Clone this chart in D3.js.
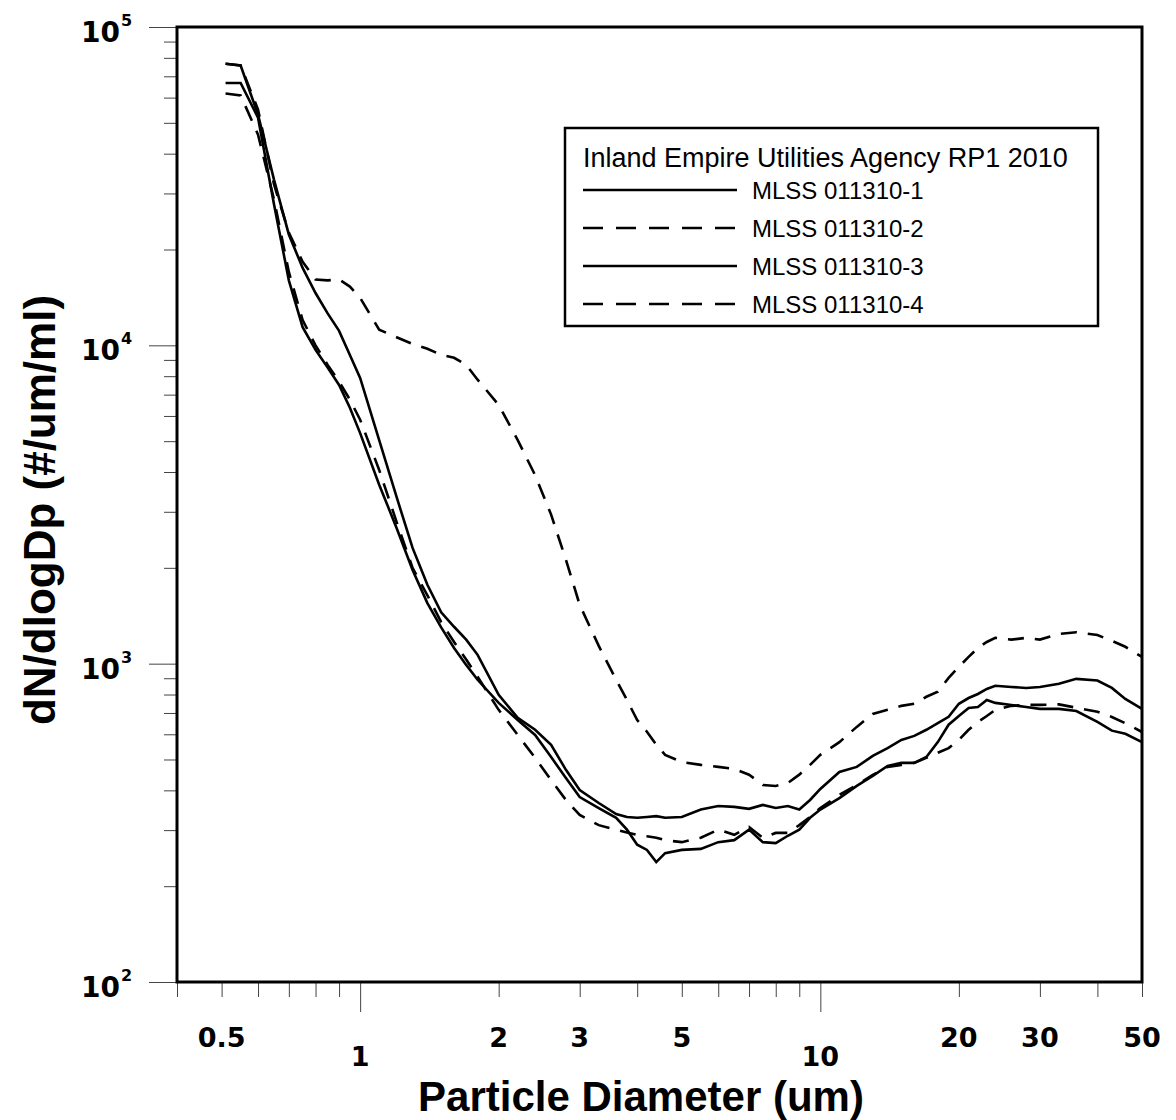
<!DOCTYPE html>
<html lang="en">
<head>
<meta charset="utf-8">
<title>Particle size distribution</title>
<script src="https://d3js.org/d3.v7.min.js"></script>
<style>
  body { margin: 0; background: #fff; }
  svg text { font-family: "Liberation Sans", Arial, sans-serif; fill: #000; }
  svg text.tickLabel { font-family: "DejaVu Sans", sans-serif; font-weight: bold; }
  .tick line { stroke: #444; stroke-width: 1; }
  .domain { display: none; }
</style>
</head>
<body>
<svg id="chart" width="1176" height="1120"></svg>
<script>
// particle diameter (um), shared by all four runs
var diam = [0.51, 0.55, 0.6, 0.65, 0.7, 0.75, 0.8, 0.85, 0.9, 0.95,
            1.0, 1.1, 1.2, 1.3, 1.4, 1.5, 1.6, 1.7, 1.8, 2.0,
            2.2, 2.4, 2.6, 2.8, 3.0, 3.3, 3.6, 3.8, 4.0, 4.2,
            4.4, 4.6, 5.0, 5.5, 6.0, 6.5, 7.0, 7.5, 8.0, 8.5,
            9.0, 9.5, 10, 11, 12, 13, 14, 15, 16, 17,
            18, 19, 20, 21, 22, 23, 24, 26, 28, 30,
            33, 36, 40, 43, 46, 50];

// dN/dlogDp (#/um/ml)
var mlss1 = [76700, 75700, 53100, 33100, 22300, 17500, 14600, 12600, 11100, 9330,
             7900, 5040, 3340, 2310, 1770, 1450, 1306, 1190, 1066, 798,
             676, 620, 556, 464, 401, 365, 337, 330, 328, 330,
             332, 328, 330, 348, 357, 355, 350, 360, 352, 357,
             348, 373, 404, 457, 474, 513, 543, 576, 593, 620,
             651, 681, 748, 780, 803, 833, 852, 845, 839, 845,
             865, 896, 885, 839, 775, 721];

var mlss2 = [76700, 75700, 55000, 32000, 22600, 18300, 16100, 16000, 16100, 15300,
             14100, 11200, 10600, 10100, 9750, 9330, 9140, 8680, 7800, 6500,
             5040, 3910, 2940, 2120, 1530, 1137, 890, 769, 665, 611,
             556, 517, 491, 481, 474, 467, 448, 416, 413, 422,
             448, 481, 517, 567, 633, 695, 716, 737, 748, 787,
             816, 902, 977, 1050, 1120, 1170, 1205, 1190, 1205, 1190,
             1240, 1255, 1230, 1180, 1130, 1050];

var mlss3 = [66700, 66700, 51900, 27700, 16000, 11400, 9680, 8510, 7510, 6370,
             5300, 3650, 2670, 1970, 1550, 1300, 1120, 991, 890, 753,
             665, 597, 509, 437, 381, 352, 328, 301, 270, 260,
             238, 254, 260, 262, 275, 279, 301, 275, 273, 288,
             301, 328, 348, 378, 413, 444, 477, 488, 488, 509,
             567, 643, 685, 726, 731, 769, 753, 742, 731, 721,
             721, 710, 656, 616, 602, 567];

var mlss4 = [61800, 61000, 45900, 28700, 17000, 12000, 10000, 8680, 7690, 6750,
             5840, 4060, 2790, 2000, 1640, 1350, 1170, 1030, 910, 716,
             597, 506, 431, 373, 335, 311, 301, 295, 290, 287,
             284, 279, 275, 284, 301, 290, 307, 284, 294, 294,
             311, 330, 352, 387, 416, 447, 474, 481, 488, 506,
             525, 543, 576, 620, 656, 685, 716, 737, 742, 742,
             745, 727, 706, 680, 650, 610];

var seriesNames = ["MLSS 011310-1", "MLSS 011310-2", "MLSS 011310-3", "MLSS 011310-4"];
var seriesValues = [mlss1, mlss2, mlss3, mlss4];
var seriesDashed = [false, true, false, true];

var xLabelTicks = [0.5, 2, 3, 5, 20, 30, 50];
var xDecadeTicks = [1, 10];
var xMinorTicks = [0.4, 0.5, 0.6, 0.7, 0.8, 0.9, 2, 3, 4, 5, 6, 7, 8, 9, 20, 30, 40, 50];
var yMajorTicks = [100, 1000, 10000, 100000];

var svg = d3.select("#chart");

var x = d3.scaleLog().domain([0.4, 50]).range([177, 1142]);
var y = d3.scaleLog().domain([100, 100000]).range([982, 27]);

// x ticks
svg.append("g")
    .attr("transform", "translate(0," + y(100) + ")")
    .call(d3.axisBottom(x).tickValues(xMinorTicks).tickSize(15).tickFormat(""));
svg.append("g")
    .attr("transform", "translate(0," + y(100) + ")")
    .call(d3.axisBottom(x).tickValues(xDecadeTicks).tickSize(30).tickFormat(""));

svg.selectAll(".xlab")
    .data(xLabelTicks)
  .enter().append("text")
    .attr("class", "tickLabel")
    .attr("x", function(d) { return x(d); })
    .attr("y", 1047)
    .attr("text-anchor", "middle")
    .attr("font-size", 27)
    .text(function(d) { return d; });

svg.selectAll(".xdec")
    .data(xDecadeTicks)
  .enter().append("text")
    .attr("class", "tickLabel")
    .attr("x", function(d) { return x(d); })
    .attr("y", 1066)
    .attr("text-anchor", "middle")
    .attr("font-size", 27)
    .text(function(d) { return d; });

// y ticks
var yMinor = [];
for (var k = 2; k < 5; k++) {
    for (var m = 2; m <= 9; m++) yMinor.push(m * Math.pow(10, k));
}
svg.append("g")
    .attr("transform", "translate(" + x(0.4) + ",0)")
    .call(d3.axisLeft(y).tickValues(yMinor).tickSize(13).tickFormat(""));
svg.append("g")
    .attr("transform", "translate(" + x(0.4) + ",0)")
    .call(d3.axisLeft(y).tickValues(yMajorTicks).tickSize(28).tickFormat(""));

var ylab = svg.selectAll(".ylab")
    .data(yMajorTicks)
  .enter().append("text")
    .attr("class", "tickLabel")
    .attr("x", 81)
    .attr("y", function(d) { return y(d) + 15; })
    .attr("font-size", 28);
ylab.append("tspan").text("10");
ylab.append("tspan")
    .attr("font-size", 16)
    .attr("dy", -16)
    .attr("dx", 1)
    .text(function(d) { return Math.round(Math.log10(d)); });

// axis titles
svg.append("text")
    .attr("x", 641)
    .attr("y", 1111)
    .attr("text-anchor", "middle")
    .attr("font-size", 42)
    .attr("font-weight", "bold")
    .text("Particle Diameter (um)");

svg.append("text")
    .attr("transform", "translate(55,510) rotate(-90)")
    .attr("text-anchor", "middle")
    .attr("font-size", 44)
    .attr("font-weight", "bold")
    .text("dN/dlogDp (#/um/ml)");

// curves
var line = d3.line()
    .x(function(d) { return x(d[0]); })
    .y(function(d) { return y(d[1]); });

seriesValues.forEach(function(vals, i) {
    svg.append("path")
        .datum(diam.map(function(d, j) { return [d, vals[j]]; }))
        .attr("fill", "none")
        .attr("stroke", "#000")
        .attr("stroke-width", 2.6)
        .attr("stroke-dasharray", seriesDashed[i] ? "16,11" : null)
        .attr("d", line);
});

// plot frame
svg.append("rect")
    .attr("x", x(0.4))
    .attr("y", y(100000))
    .attr("width", x(50) - x(0.4))
    .attr("height", y(100) - y(100000))
    .attr("fill", "none")
    .attr("stroke", "#000")
    .attr("stroke-width", 3);

// legend
var legend = svg.append("g");
legend.append("rect")
    .attr("x", 565).attr("y", 128)
    .attr("width", 533).attr("height", 198)
    .attr("fill", "#fff")
    .attr("stroke", "#000")
    .attr("stroke-width", 2.5);
legend.append("text")
    .attr("x", 583).attr("y", 167)
    .attr("font-size", 27)
    .text("Inland Empire Utilities Agency RP1 2010");

var rows = legend.selectAll(".row")
    .data(seriesNames)
  .enter().append("g")
    .attr("transform", function(d, i) { return "translate(0," + (190 + i * 38) + ")"; });
rows.append("line")
    .attr("x1", 583).attr("x2", 737)
    .attr("stroke", "#000")
    .attr("stroke-width", 2.5)
    .attr("stroke-dasharray", function(d, i) { return seriesDashed[i] ? "20,13" : null; });
rows.append("text")
    .attr("x", 752).attr("y", 9)
    .attr("font-size", 24)
    .text(function(d) { return d; });
</script>
</body>
</html>
